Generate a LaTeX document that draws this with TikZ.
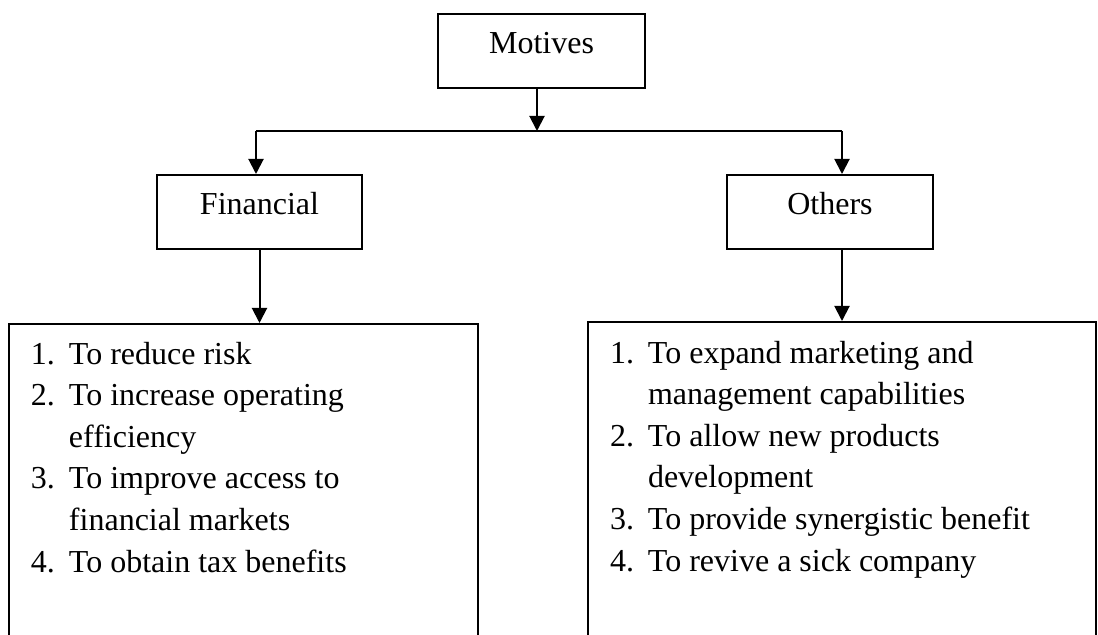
\documentclass[tikz,border=0pt]{standalone}
\usepackage{fontspec}
\setmainfont{Liberation Serif}
\usetikzlibrary{arrows.meta}

\tikzset{
	headbox/.style={draw, line width=1pt, inner ysep=0pt, text height=20pt, text depth=17pt, minimum height=37pt, anchor=north},
	listbox/.style={draw, line width=1pt, minimum height=200pt, anchor=north west},
	items/.style={anchor=north west, inner sep=0pt, align=left}
}

\begin{document}
\begin{tikzpicture}[x=0.5pt, y=-0.5pt, every node/.style={font=\fontsize{16}{20.8}\selectfont}, >={Triangle[length=7.5pt, width=7.5pt]}, line width=1pt]
	\useasboundingbox (0,0) rectangle (1098,635);
	\clip (0,0) rectangle (1098,635);
	% top level
	\node[headbox, minimum width=103.5pt] (motives) at (541.5,13) {Motives};
	\coordinate (split) at (537,131);
	\coordinate (lturn) at (256,131);
	\coordinate (rturn) at (842,131);
	% second level
	\node[headbox, minimum width=102.5pt] (fin) at (259.5,174) {Financial};
	\node[headbox, minimum width=103pt] (oth) at (830,174) {Others};
	% lists (their lower edges run off the page)
	\node[listbox, minimum width=234.5pt] (finbox) at (8,323) {};
	\node[listbox, minimum width=254pt] (othbox) at (587,321) {};
	\node[items] (finitems) at ([xshift=11pt, yshift=-5.5pt]finbox.north west) {%
		\begin{tabular}{@{}p{19pt}@{}l@{}}
			1. & To reduce risk\\
			2. & To increase operating\\
			   & efficiency\\
			3. & To improve access to\\
			   & financial markets\\
			4. & To obtain tax benefits
		\end{tabular}};
	\node[items] (othitems) at ([xshift=11pt, yshift=-6pt]othbox.north west) {%
		\begin{tabular}{@{}p{19pt}@{}l@{}}
			1. & To expand marketing and\\
			   & management capabilities\\
			2. & To allow new products\\
			   & development\\
			3. & To provide synergistic benefit\\
			4. & To revive a sick company
		\end{tabular}};
	% connectors
	\draw[->] (motives.south -| split) -- (split);
	\draw (lturn) -- (rturn);
	\draw[->] (lturn) -- (lturn |- fin.north);
	\draw[->] (rturn) -- (rturn |- oth.north);
	\draw[->] (fin.south) -- (fin.south |- finbox.north);
	\draw[->] (rturn |- oth.south) -- (rturn |- othbox.north);
\end{tikzpicture}
\end{document}
